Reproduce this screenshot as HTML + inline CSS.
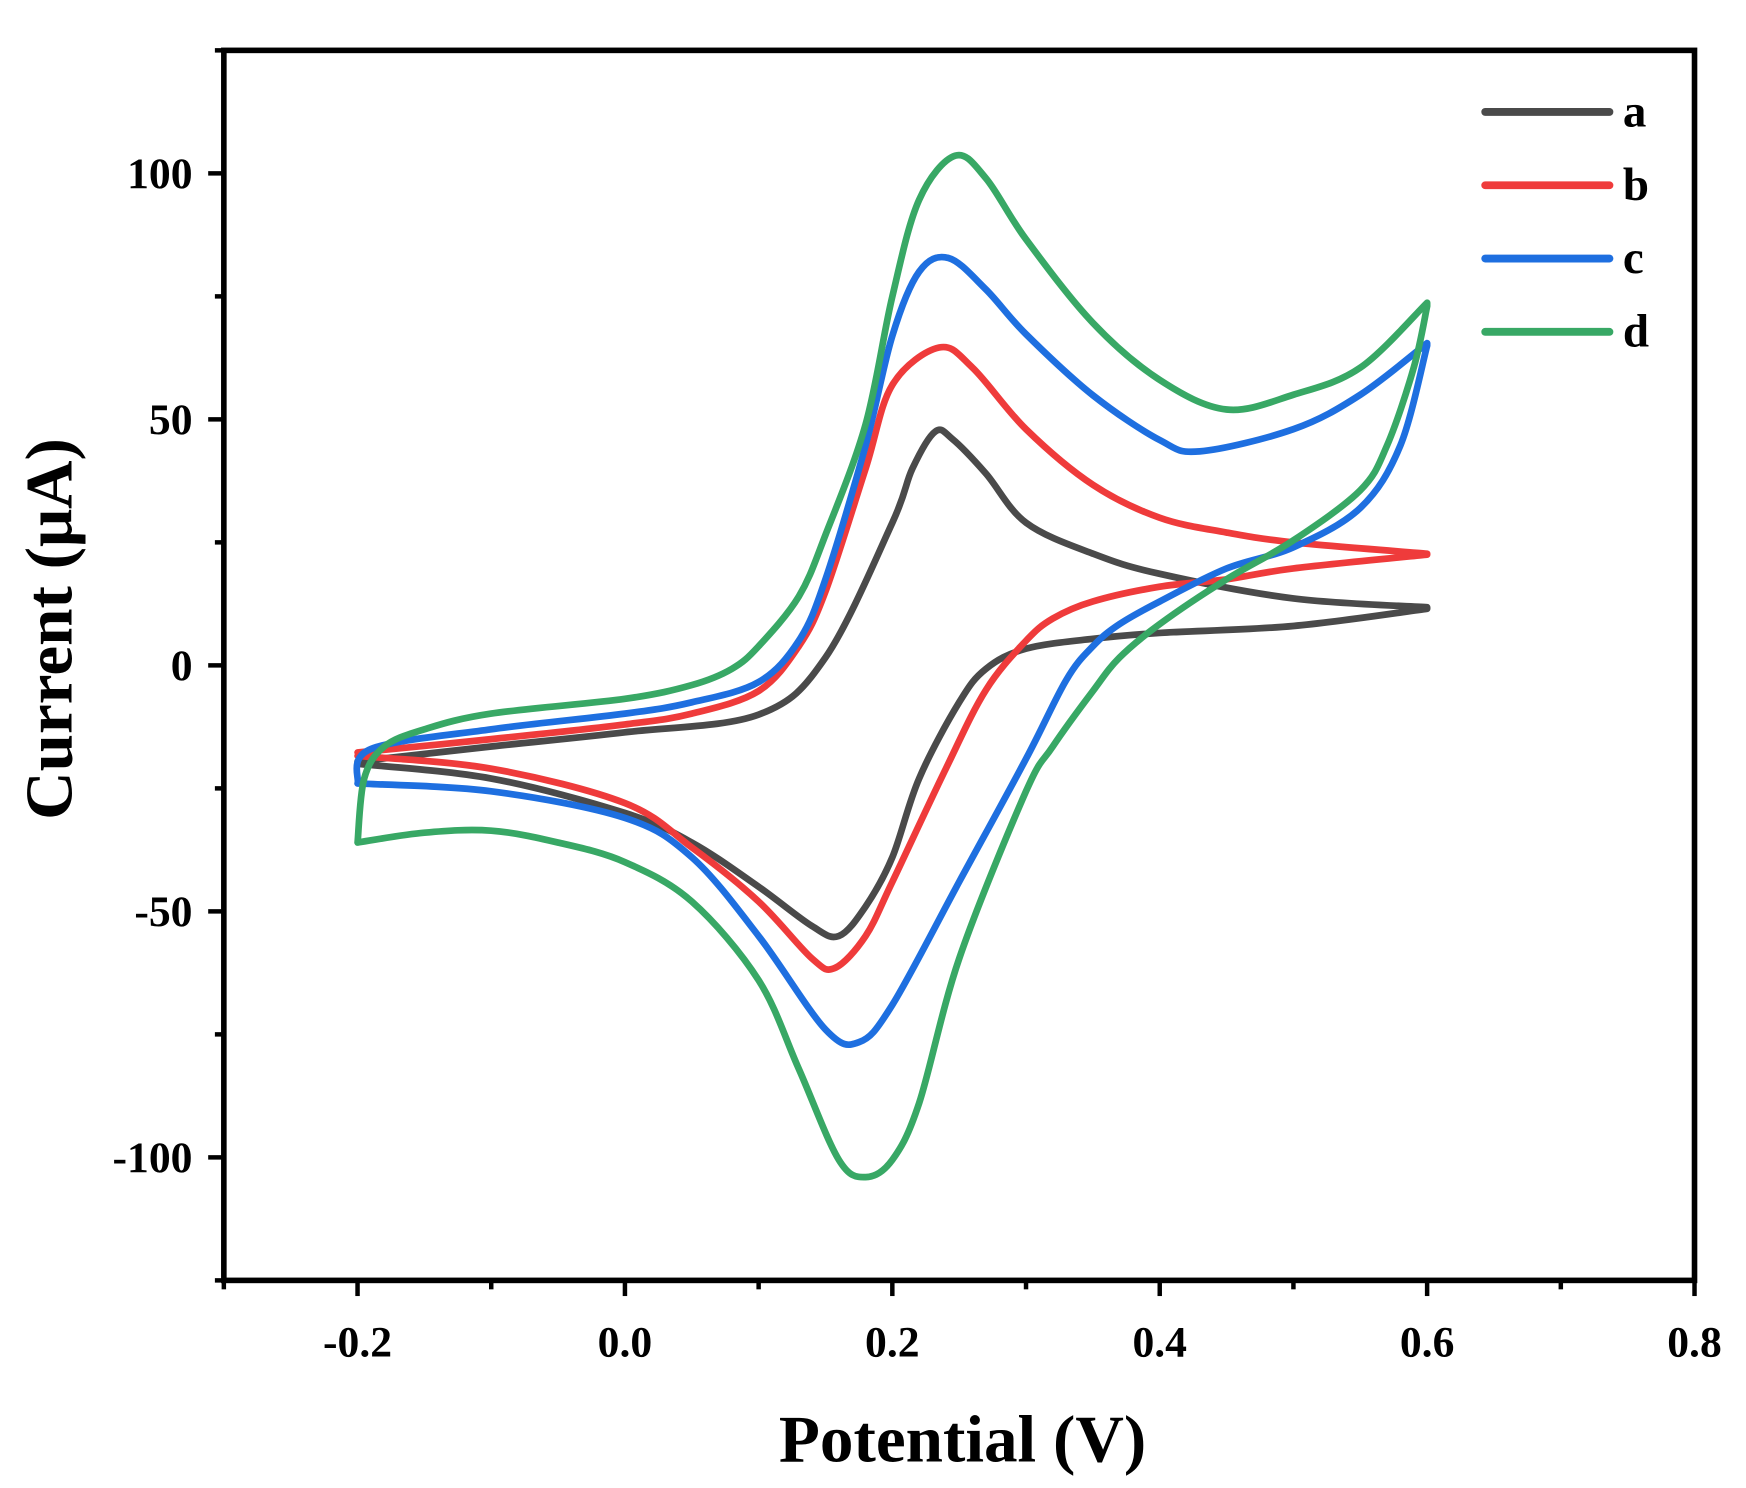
<!DOCTYPE html>
<html><head><meta charset="utf-8"><style>html,body{margin:0;padding:0;background:#fff}svg{display:block}</style></head>
<body>
<svg width="1746" height="1488" viewBox="0 0 1560 1329.5" preserveAspectRatio="none" xmlns="http://www.w3.org/2000/svg" id="chart"></svg>
<script>
const xTicks=[-0.2,0.0,0.2,0.4,0.6,0.8];
const xTickLabels=["-0.2","0.0","0.2","0.4","0.6","0.8"];
const yTicks=[100,50,0,-50,-100];
const yTickLabels=["100","50","0","-50","-100"];
const seriesNames=["a","b","c","d"];
const aFwdV=[-0.2,-0.1,0.0,0.1,0.15,0.2,0.215,0.232,0.245,0.27,0.3,0.35,0.4,0.5,0.6];
const aFwdI=[-19.5,-16.5,-13.6,-10,1.6,29,40,47.5,46,39,29,22.7,18.6,13.6,11.8];
const aRevV=[0.6,0.5,0.4,0.35,0.3,0.27,0.25,0.22,0.2,0.18,0.16,0.14,0.1,0.05,0.0,-0.1,-0.2];
const aRevI=[11.5,8,6.6,5.4,3.4,-0.7,-7.5,-23,-39,-49,-55,-53,-45,-36,-30,-23,-20];
const bFwdV=[-0.2,-0.1,0.0,0.05,0.1,0.13,0.15,0.18,0.2,0.235,0.26,0.3,0.35,0.4,0.45,0.5,0.6];
const bFwdI=[-17.7,-15,-12,-9.8,-5.2,3.9,15,40,57,64.6,60.5,48,36.7,30,27,25,22.7];
const bRevV=[0.6,0.5,0.45,0.4,0.35,0.32,0.3,0.27,0.24,0.2,0.18,0.157,0.14,0.1,0.05,0.0,-0.1,-0.2];
const bRevI=[22.5,19.7,17.5,16,13,9.5,5,-5,-21,-44,-55,-61.5,-59.6,-48,-37,-28,-21,-18.4];
const cFwdV=[-0.2,-0.19,-0.1,0.0,0.05,0.1,0.13,0.15,0.18,0.2,0.22,0.242,0.27,0.3,0.35,0.4,0.43,0.5,0.55,0.6];
const cFwdI=[-24,-17,-13,-9.8,-7.5,-3.4,5,17.5,44.7,67,80,82.8,76.4,67.3,54.9,45.8,43.5,48,55,65.5];
const cRevV=[0.6,0.58,0.55,0.5,0.45,0.4,0.37,0.35,0.33,0.3,0.25,0.2,0.175,0.15,0.1,0.05,0.0,-0.1,-0.2];
const cRevI=[65,44.7,32,24,19.7,13,8.4,3.9,-3,-19,-44,-69,-76.6,-74,-55,-39,-31,-25.6,-24];
const dFwdV=[-0.2,-0.195,-0.18,-0.15,-0.1,0.0,0.05,0.08,0.1,0.13,0.15,0.18,0.2,0.22,0.247,0.27,0.3,0.35,0.4,0.45,0.5,0.55,0.6];
const dFwdI=[-36,-23,-16.5,-13,-9.8,-6.8,-4,-0.7,3.9,14,26.5,49,75,94.6,103.6,99,86.6,69.6,58,52,55,60.5,73.7];
const dRevV=[0.6,0.59,0.57,0.55,0.5,0.45,0.4,0.37,0.35,0.32,0.3,0.25,0.22,0.2,0.18,0.16,0.13,0.1,0.05,0.0,-0.05,-0.1,-0.15,-0.2];
const dRevI=[73,60.5,44.7,35.6,25.4,17.5,8.4,1.6,-5.2,-16.5,-25.6,-59.6,-89,-100.5,-104,-100.5,-82,-64,-48,-40,-36,-33.6,-34,-36];
const colors=["#4a4a4a","#ef3b3b","#1e6fe0","#38a865"];

const svg=document.getElementById('chart');
const NS="http://www.w3.org/2000/svg";
const L=200,R=1514,T=45,B=1144,X0=-0.3,X1=0.8,Y0=-125,Y1=125;
const sx=v=>L+(v-X0)/(X1-X0)*(R-L);
const sy=v=>B-(v-Y0)/(Y1-Y0)*(B-T);
function mk(tag,attrs,parent){const e=document.createElementNS(NS,tag);for(const k in attrs)e.setAttribute(k,attrs[k]);(parent||svg).appendChild(e);return e;}
function smooth(pts){let d="M"+pts[0][0].toFixed(1)+","+pts[0][1].toFixed(1);
 for(let i=0;i<pts.length-1;i++){const p0=pts[Math.max(0,i-1)],p1=pts[i],p2=pts[i+1],p3=pts[Math.min(pts.length-1,i+2)];
  const c1=[p1[0]+(p2[0]-p0[0])/6,p1[1]+(p2[1]-p0[1])/6],c2=[p2[0]-(p3[0]-p1[0])/6,p2[1]-(p3[1]-p1[1])/6];
  d+=" C"+c1.map(n=>n.toFixed(1))+" "+c2.map(n=>n.toFixed(1))+" "+p2.map(n=>n.toFixed(1));}
 return d;}
const font='"Liberation Serif", serif';
const all=[[aFwdV,aFwdI,aRevV,aRevI],[bFwdV,bFwdI,bRevV,bRevI],[cFwdV,cFwdI,cRevV,cRevI],[dFwdV,dFwdI,dRevV,dRevI]];
all.forEach((s,k)=>{
 const pts=s[0].map((v,i)=>[sx(v),sy(s[1][i])]);
 const rev=s[2].map((v,i)=>[sx(v),sy(s[3][i])]);
 const p=mk('path',{d:smooth(pts)+" "+smooth(rev).replace(/^M/,"L"),fill:"none",stroke:colors[k],"stroke-width":6,"stroke-linejoin":"round","stroke-linecap":"round"});
 
 
});
const fr=mk('rect',{x:L,y:T,width:R-L,height:B-T,fill:"none",stroke:"#000","stroke-width":5});


for(let v=-0.3;v<=0.8001;v+=0.1){const x=sx(v);const major=Math.abs(Math.round(v*10)%2)===0;
 const t=mk('line',{x1:x,x2:x,y1:B,y2:B+(major?14:8),stroke:"#000","stroke-width":4});
 
 }
xTicks.forEach((v,i)=>{const t=mk('text',{x:sx(v),y:B+68,"text-anchor":"middle","font-family":font,"font-weight":"bold","font-size":39});t.textContent=xTickLabels[i];
 
 });
for(let v=-125;v<=125;v+=25){const y=sy(v);const major=v%50===0;
 const t=mk('line',{x1:L,x2:L-(major?14:8),y1:y,y2:y,stroke:"#000","stroke-width":4});
 
 }
yTicks.forEach((v,i)=>{const t=mk('text',{x:L-28,y:sy(v)+13,"text-anchor":"end","font-family":font,"font-weight":"bold","font-size":39});t.textContent=yTickLabels[i];
 
 });
const xt=mk('text',{x:860,y:1306,"text-anchor":"middle","font-family":font,"font-weight":"bold","font-size":60});xt.textContent="Potential (V)";


const yt=mk('text',{x:0,y:0,transform:"translate(64,562) rotate(-90)","text-anchor":"middle","font-family":font,"font-weight":"bold","font-size":60});yt.textContent="Current (μA)";


seriesNames.forEach((n,k)=>{const y=100+k*65.5;
 const g=mk('g',{});
 
 
 mk('line',{x1:1327,x2:1438,y1:y,y2:y,stroke:colors[k],"stroke-width":7,"stroke-linecap":"round"},g);
 const t=mk('text',{x:1450,y:y+13,"font-family":font,"font-weight":"bold","font-size":42},g);t.textContent=n;});
</script>
</body></html>
